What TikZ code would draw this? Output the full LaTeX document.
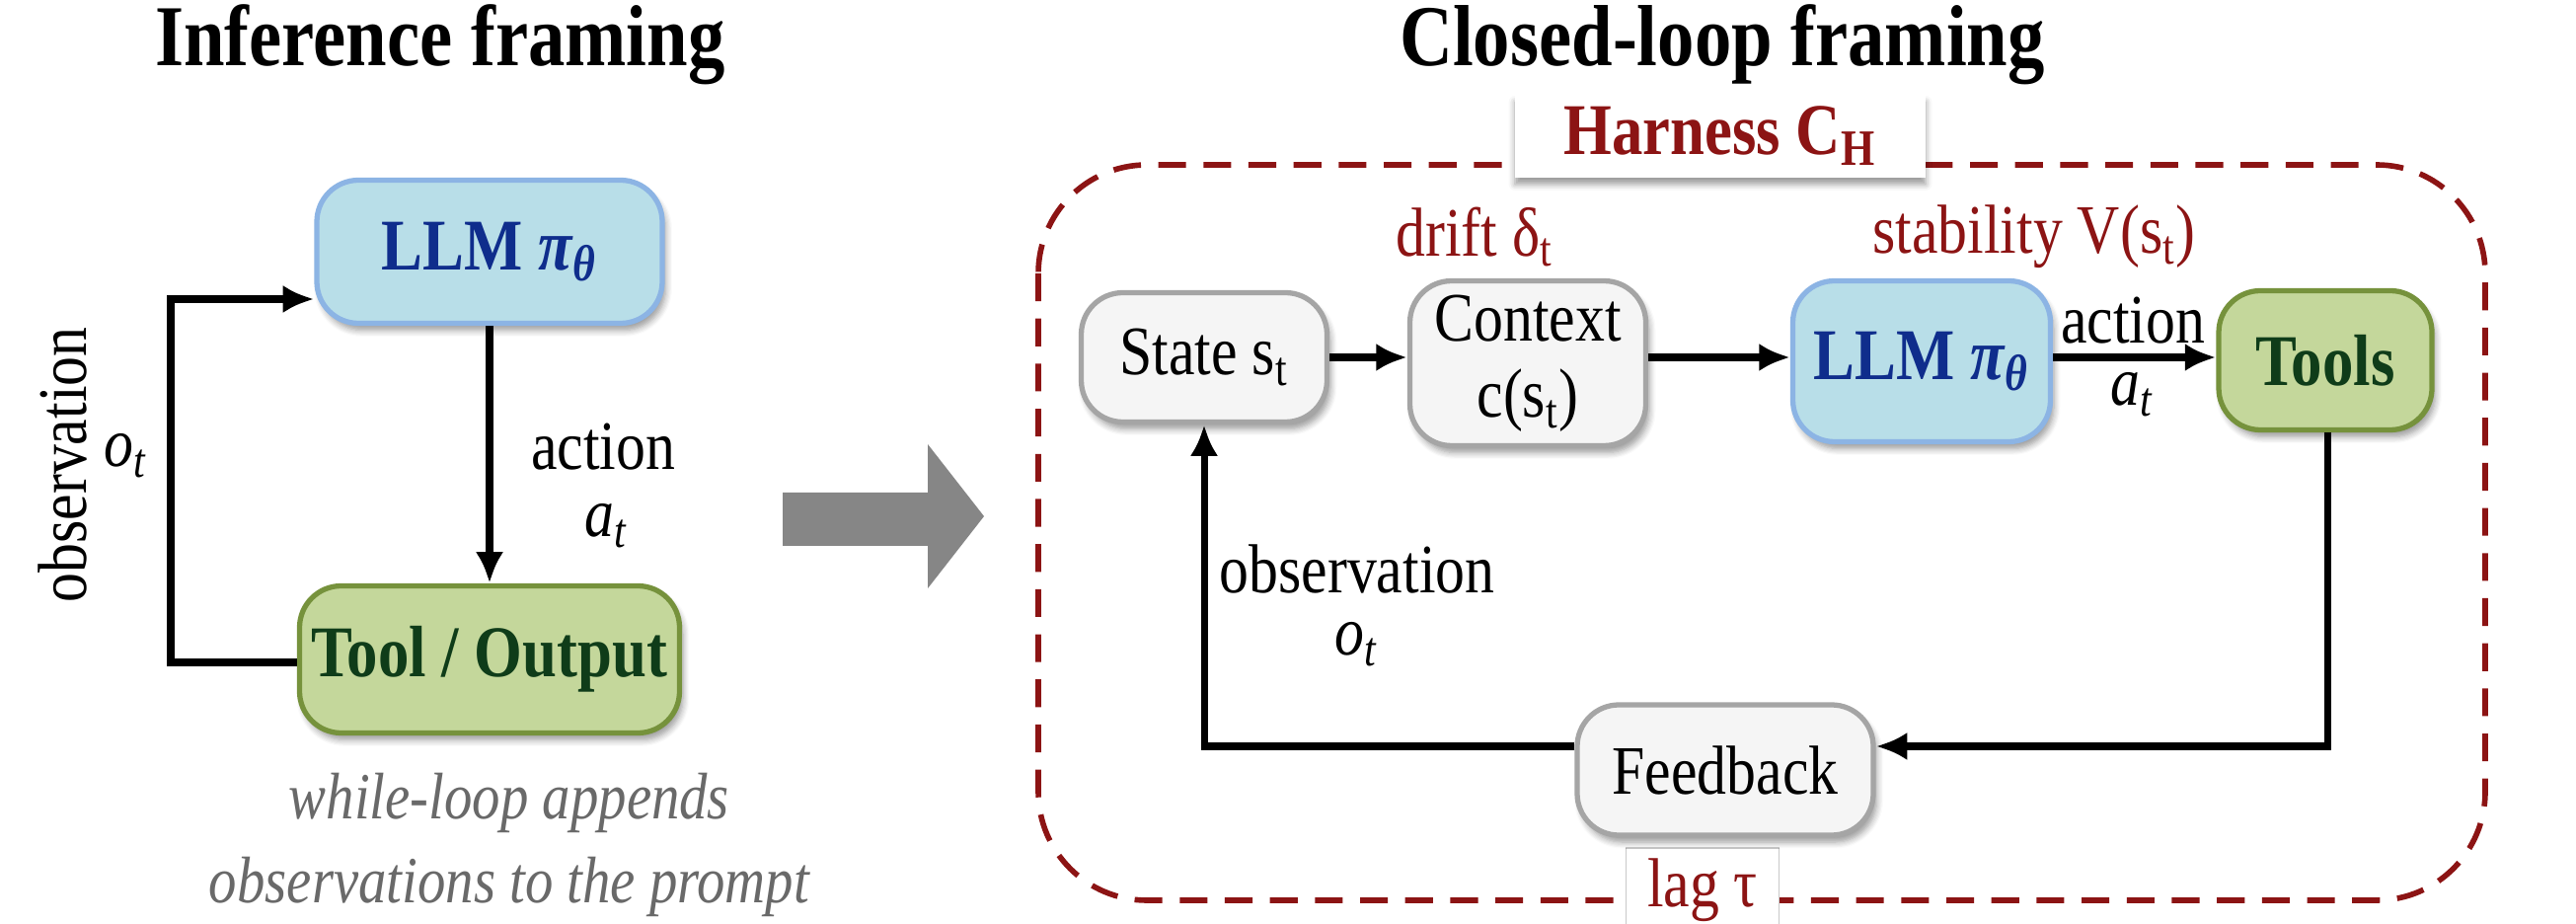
\documentclass[tikz,border=0pt]{standalone}
\usepackage{fontspec}
\setmainfont{Liberation Serif}[FakeStretch=0.85]
\usepackage{xcolor}
\usepackage{tikz}
\usetikzlibrary{
    positioning,
    arrows.meta,
    shadows.blur
}
\definecolor{llmBlue}{RGB}{184, 222, 232}
\definecolor{llmEdge}{RGB}{140, 180, 228}
\definecolor{llmText}{RGB}{15, 45, 140}
\definecolor{toolGreen}{RGB}{196, 215, 155}
\definecolor{toolEdge}{RGB}{118, 146, 60}
\definecolor{toolText}{RGB}{15, 60, 25}
\definecolor{boxGray}{RGB}{245, 245, 245}
\definecolor{boxEdge}{RGB}{165, 165, 165}
\definecolor{harnessRed}{RGB}{140, 20, 20}
\definecolor{noteGray}{RGB}{105, 105, 105}

\begin{document}
\begin{tikzpicture}[x=1cm, y=-1cm,
    blk/.style={draw, line width=1.5pt, rounded corners=12pt, align=center, inner sep=2pt,
        blur shadow={shadow xshift=1pt, shadow yshift=-2pt, shadow blur steps=6}},
    llm/.style={blk, fill=llmBlue, draw=llmEdge, text=llmText, font=\fontsize{21}{24}\selectfont\bfseries},
    tool/.style={blk, fill=toolGreen, draw=toolEdge, text=toolText, font=\fontsize{21}{24}\selectfont\bfseries},
    plain/.style={blk, fill=boxGray, draw=boxEdge, font=\fontsize{20}{22}\selectfont},
    flow/.style={-{Latex[length=9pt, width=8pt]}, line width=2pt},
    lbl/.style={font=\fontsize{20}{24}\selectfont},
    redlbl/.style={lbl, text=harnessRed}
]
\useasboundingbox (0,0) rectangle (26.1,9.36);

% inference framing
\node[font=\fontsize{25}{30}\selectfont\bfseries] (t1) at (4.46,0.45) {Inference framing};
\node[llm, minimum width=3.5cm, minimum height=1.45cm] (llmA) at (4.96,2.55) {LLM \textit{π}\textsubscript{\textit{θ}}};
\node[tool, minimum width=3.85cm, minimum height=1.49cm] (toolA) at (4.96,6.68) {Tool / Output};
\coordinate (loopA) at (1.73,6.71);
\draw[flow] (llmA.south) -- (toolA.north);
\node[lbl] (actA) at (6.11,4.53) {action};
\node[lbl] (atA) at (6.15,5.33) {\textit{a}\textsubscript{\textit{t}}};
\draw[flow] (toolA.west |- loopA) -- (loopA) |- (llmA.west |- 0,3.03);
\node[lbl, rotate=90] (obsA) at (0.63,4.71) {observation};
\node[lbl] (otA) at (1.28,4.62) {\textit{o}\textsubscript{\textit{t}}};
\node[lbl, text=noteGray, align=center, font=\fontsize{19}{24}\selectfont\itshape] (noteA) at (5.16,8.56)
    {while-loop appends\\observations to the prompt};

% big arrow
\fill[gray!95] (7.93,4.99) -- (9.40,4.99) -- (9.40,4.50) -- (9.97,5.23)
    -- (9.40,5.96) -- (9.40,5.53) -- (7.93,5.53) -- cycle;

% closed-loop framing
\node[font=\fontsize{25}{30}\selectfont\bfseries] (t2) at (17.45,0.45) {Closed-loop framing};
\draw[harnessRed, dashed, line width=1.6pt, dash pattern=on 8pt off 5pt, rounded corners=1.1cm]
    (10.52,1.67) rectangle (25.18,9.12);
\node[fill=white, minimum width=4.16cm, minimum height=0.7cm, text=harnessRed,
    font=\fontsize{21}{24}\selectfont\bfseries,
    blur shadow={shadow xshift=0pt, shadow yshift=-2pt, shadow blur steps=4}] (harness) at (17.43,1.38)
    {Harness C\textsubscript{H}};
\node[fill=white, draw=boxEdge!60, minimum width=1.55cm, minimum height=0.6cm, redlbl] (lag) at (17.25,9.02) {lag τ};

\node[plain, minimum width=2.49cm, minimum height=1.31cm] (state) at (12.20,3.62) {State s\textsubscript{t}};
\node[plain, minimum width=2.39cm, minimum height=1.46cm, inner sep=4pt] (ctx) at (15.48,3.68) {Context\\c(s\textsubscript{t})};
\node[llm, minimum width=2.61cm, minimum height=1.63cm] (llmB) at (19.47,3.66) {LLM \textit{π}\textsubscript{\textit{θ}}};
\node[tool, minimum width=2.16cm, minimum height=1.41cm] (tools) at (23.56,3.65) {Tools};
\node[plain, minimum width=3.0cm, minimum height=1.32cm] (fb) at (17.48,7.80) {Feedback};

\node[redlbl] (drift) at (14.94,2.40) {drift δ\textsubscript{t}};
\node[redlbl] (stab) at (20.61,2.40) {stability V(s\textsubscript{t})};
\node[lbl] (actB) at (21.61,3.25) {action};
\node[lbl] (atB) at (21.61,4.00) {\textit{a}\textsubscript{\textit{t}}};
\node[lbl] (obsB) at (13.75,5.76) {observation};
\node[lbl] (otB) at (13.75,6.53) {\textit{o}\textsubscript{\textit{t}}};

\coordinate (downB) at (23.58,7.56);
\coordinate (upB) at (12.20,7.56);
\draw[flow] (state.east) -- (ctx.west |- state.east);
\draw[flow] (ctx.east |- state.east) -- (llmB.west |- state.east);
\draw[flow] (llmB.east |- state.east) -- (tools.west |- state.east);
\draw[flow] (tools.south -| downB) -- (downB) -- (fb.east |- downB);
\draw[flow] (fb.west |- upB) -- (upB) -- (state.south);
\end{tikzpicture}
\end{document}
